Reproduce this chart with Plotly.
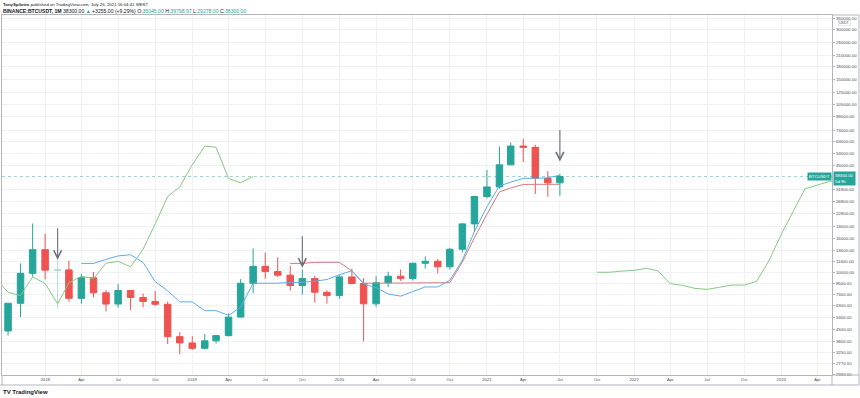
import math
import plotly.graph_objects as go
import pandas as pd

# ---------------- data ----------------
months = pd.date_range("2017-08-01", "2021-07-01", freq="MS")
opens = [4261.48, 4689.89, 4378.49, 6463.00, 9837.00, 13715.65, 10285.10, 10325.64, 6922.00, 9246.01,
         7485.01, 6391.08, 7735.67, 7011.21, 6626.57, 6369.52, 4041.27, 3701.23, 3434.10, 3814.26,
         4102.44, 5321.94, 8555.00, 10854.10, 10080.53, 9588.74, 8289.97, 9140.86, 7540.63, 7195.24,
         9351.71, 8523.61, 6412.14, 8620.00, 9448.27, 9138.08, 11335.46, 11649.51, 10776.59, 13791.00,
         19695.87, 28923.63, 33092.97, 45134.11, 58739.46, 57697.25, 37253.82, 35045.00]
highs = [4745.42, 4939.19, 6470.00, 11300.03, 19798.68, 17176.24, 11786.01, 11710.00, 9759.82, 10020.00,
         7786.69, 8491.77, 7750.00, 7410.00, 7680.00, 6615.15, 4312.99, 4069.80, 4198.00, 4140.00,
         5600.00, 9074.26, 13970.00, 13147.08, 12325.00, 10948.00, 10370.00, 9513.68, 7750.00, 9578.00,
         10500.00, 9188.00, 9460.00, 10067.00, 10380.00, 11444.00, 12468.00, 12050.85, 14100.00, 19863.16,
         29300.00, 41950.00, 58352.80, 61844.00, 64854.00, 59592.20, 41330.00, 39798.97]
lows = [3400.00, 2817.00, 4110.00, 5325.01, 9380.00, 9035.00, 6000.01, 6600.10, 6430.00, 7032.95,
        5750.00, 6070.00, 5880.00, 6111.00, 6205.00, 3652.66, 3156.26, 3349.92, 3373.10, 3670.69,
        4067.00, 5316.20, 7444.58, 9110.00, 9320.00, 7710.00, 7300.00, 6515.00, 6435.00, 6871.04,
        8445.00, 3782.13, 6150.11, 8117.00, 8833.00, 8893.03, 10518.50, 9825.00, 10376.00, 13195.05,
        17572.33, 28130.00, 32296.16, 44950.53, 47044.01, 30000.00, 28805.00, 29278.00]
closes = [4724.89, 4378.51, 6463.00, 9838.96, 13716.36, 10285.10, 10326.50, 6923.91, 9246.01, 7485.01,
          6391.08, 7730.93, 7011.21, 6626.57, 6371.93, 4041.32, 3702.90, 3434.10, 3813.69, 4103.95,
          5320.81, 8555.00, 10854.10, 10080.53, 9588.74, 8289.34, 9140.85, 7541.89, 7195.23, 9352.89,
          8523.61, 6410.44, 8620.00, 9448.27, 9138.55, 11335.46, 11649.51, 10776.59, 13791.00, 19695.87,
          28923.63, 33092.98, 45135.66, 58740.55, 57694.27, 37253.81, 35045.00, 38300.00]
highlight_month = "2018-02-01"

conv_dates = pd.date_range("2018-04-01", "2021-07-01", freq="MS")
conversion_line = [11307.8, 11307.8, 11954, 12562, 12774, 11463, 8768, 7681, 6588, 6588,
                   5824, 5824, 5453, 6115, 8563, 8563, 8563, 8660, 8672, 8820,
                   9019, 9643, 10203, 8465, 8054, 7365, 7141, 7613, 8125, 8125,
                   8941, 11823, 17725, 25034, 33593, 35369, 37340, 37340, 37615, 39025]
base_dates = pd.date_range("2019-09-01", "2021-07-01", freq="MS")
base_line = [11307.8, 11307.8, 11477.5, 11477.5, 11477.5, 10166, 8563, 8563, 8563, 8563,
             8563, 8563, 8563, 8628, 11509.7, 16228, 22553, 30851, 32608, 34262,
             34318, 34318, 34318]
lag_dates = pd.date_range("2017-08-01", "2019-06-01", freq="MS")
lagging_span = [8289, 9141, 7542, 7195, 9353, 8524, 6410, 8620, 9448, 9139,
                11335, 11650, 10777, 13791, 19696, 28924, 33093, 45136, 58741, 57694,
                37254, 35045, 38300]
lead_dates = pd.date_range("2021-10-01", "2023-08-01", freq="MS")
leading_span_a = [9984, 9989, 10149, 10248, 10560, 10184, 8514, 8309, 7964, 7852,
                  8088, 8344, 8344, 8785, 11666, 16977, 23793, 32222, 33989, 35801,
                  35829, 35966, 36672]

price_ticks = [2390, 2770, 3250, 3800, 4500, 5300, 6300, 7300, 8500, 10000, 11600, 13600, 16000,
               19000, 22800, 26800, 31800, 45000, 53000, 63000, 73000, 89000, 105000, 125000,
               150000, 180000, 210000, 250000, 300000, 350000]
time_ticks = pd.date_range("2018-01-01", "2023-04-01", freq="QS")
time_labels = ["2018", "Apr", "Jul", "Oct", "2019", "Apr", "Jul", "Oct", "2020", "Apr", "Jul", "Oct",
               "2021", "Apr", "Jul", "Oct", "2022", "Apr", "Jul", "Oct", "2023", "Apr"]
last_price = 38300.00
# arrows: (month, price just above the candle where the arrow head sits)
arrow_marks = [("2018-02-01", 11900), ("2019-10-01", 10650), ("2021-07-01", 47300)]

# ---------------- figure ----------------
UP, DOWN = "#26a69a", "#ef5350"
FADED = "#a8dcd6"
hl = months == pd.Timestamp(highlight_month)
norm = ~hl


def pick(vals, mask):
    return [v for v, k in zip(vals, mask) if k]


fig = go.Figure()
fig.add_trace(go.Candlestick(
    x=months[norm], open=pick(opens, norm), high=pick(highs, norm),
    low=pick(lows, norm), close=pick(closes, norm),
    increasing=dict(line=dict(color=UP, width=1), fillcolor=UP),
    decreasing=dict(line=dict(color=DOWN, width=1), fillcolor=DOWN),
    showlegend=False, hoverinfo="skip"))
fig.add_trace(go.Candlestick(
    x=months[hl], open=pick(opens, hl), high=pick(highs, hl),
    low=pick(lows, hl), close=pick(closes, hl),
    increasing=dict(line=dict(color=FADED, width=1), fillcolor=FADED),
    decreasing=dict(line=dict(color=FADED, width=1), fillcolor=FADED),
    showlegend=False, hoverinfo="skip"))

fig.add_trace(go.Scatter(x=lag_dates, y=lagging_span, mode="lines",
                         line=dict(color="#86c97f", width=1), showlegend=False, hoverinfo="skip"))
fig.add_trace(go.Scatter(x=lead_dates, y=leading_span_a, mode="lines",
                         line=dict(color="#86c97f", width=1), showlegend=False, hoverinfo="skip"))
fig.add_trace(go.Scatter(x=base_dates, y=base_line, mode="lines",
                         line=dict(color="#d57a7c", width=1), showlegend=False, hoverinfo="skip"))
fig.add_trace(go.Scatter(x=conv_dates, y=conversion_line, mode="lines",
                         line=dict(color="#5eaaf0", width=1), showlegend=False, hoverinfo="skip"))

GRID = "#eef1f6"
AX = "#b2b5be"
TXT = "#4a4d57"
FONT = "Liberation Sans"

fig.update_layout(
    width=860, height=398,
    margin=dict(l=2, r=28, t=15, b=23),
    paper_bgcolor="white", plot_bgcolor="white",
    boxgap=0.18,
    font=dict(family=FONT, size=5, color=TXT),
    xaxis=dict(
        type="date", range=["2017-09-16", "2023-05-07"],
        tickvals=time_ticks, ticktext=time_labels,
        showgrid=True, gridcolor=GRID, gridwidth=1,
        showline=True, linecolor=AX, linewidth=1, mirror=True,
        ticks="", tickfont=dict(size=4.2, color=TXT, family=FONT),
        rangeslider=dict(visible=False), zeroline=False, fixedrange=True),
    yaxis=dict(
        type="log", side="right", range=[3.373, 5.568],
        tickvals=price_ticks, ticktext=[f"{v:.2f}" for v in price_ticks],
        showgrid=True, gridcolor=GRID, gridwidth=1,
        showline=True, linecolor=AX, linewidth=1, mirror=True,
        ticks="outside", ticklen=2, tickcolor=AX,
        tickfont=dict(size=4.4, color=TXT, family=FONT), zeroline=False, fixedrange=True),
)

# last price line
fig.add_shape(type="line", xref="paper", x0=0, x1=1, yref="y", y0=last_price, y1=last_price,
              line=dict(color="rgba(38,166,154,0.45)", width=1, dash="dot"))


def px_x(px):
    return (px - 2) / 830.0


def px_y(py):
    return (375 - py) / 360.0


# outer frame (time-axis pane and price-axis pane)
frame = [
    (px_x(0), px_x(859), px_y(385), px_y(385)),
    (px_x(859), px_x(859), px_y(385), px_y(15)),
    (1, 1, px_y(375), px_y(385)),
    (0, 0, px_y(375), px_y(385)),
    (1, px_x(859), 1, 1),
    (1, px_x(859), 0, 0),
]
for x0, x1, y0, y1 in frame:
    fig.add_shape(type="line", xref="paper", yref="paper", x0=x0, x1=x1, y0=y0, y1=y1,
                  line=dict(color=AX, width=1))

# arrows (annotation positions on a log axis are given in log10 units)
for xd, yv in arrow_marks:
    fig.add_annotation(x=xd, y=math.log10(yv), xref="x", yref="y", text="", showarrow=True,
                       ax=0, ay=-33, axref="pixel", ayref="pixel",
                       arrowhead=5, arrowsize=1.4, arrowwidth=1.1, arrowcolor="#6a6d78")

# header
green = UP
fig.add_annotation(xref="paper", yref="paper", x=0, y=px_y(4), xanchor="left", yanchor="middle",
                   showarrow=False, align="left", borderpad=0,
                   text="<b>TonySpilotro</b> published on TradingView.com, July 26, 2021 16:04:41 WEST",
                   font=dict(size=4.3, color="#131722", family=FONT))
fig.add_annotation(xref="paper", yref="paper", x=0, y=px_y(11), xanchor="left", yanchor="middle",
                   showarrow=False, align="left", borderpad=0,
                   text=(f"<b>BINANCE:BTCUSDT, 1M</b> 38300.00 <span style='color:{green}'>▲</span> "
                         f"+3255.00 (+9.29%) O:<span style='color:{green}'>35045.00</span> "
                         f"H:<span style='color:{green}'>39798.97</span> "
                         f"L:<span style='color:{green}'>29278.00</span> "
                         f"C:<span style='color:{green}'>38300.00</span>"),
                   font=dict(size=5.1, color="#131722", family=FONT))

# price labels on the right
ylast = math.log10(last_price)
fig.add_annotation(xref="paper", yref="y", x=1, y=ylast, xanchor="right", yanchor="middle",
                   showarrow=False, text="BTCUSDT", bgcolor=UP, borderpad=1,
                   font=dict(size=4.3, color="white", family=FONT))
fig.add_annotation(xref="paper", yref="y", x=1.0015, y=ylast, xanchor="left", yanchor="middle",
                   yshift=-2, showarrow=False, text="38300.00<br>5d 9h", bgcolor=UP, borderpad=1,
                   align="left", font=dict(size=4.3, color="white", family=FONT))
fig.add_annotation(xref="paper", yref="paper", x=px_x(845), y=px_y(22.5), xanchor="center", yanchor="middle",
                   showarrow=False, text="USDT", bordercolor="#d1d4dc", borderwidth=0.5, borderpad=0.5,
                   bgcolor="white", font=dict(size=3.6, color=TXT, family=FONT))

# TradingView footer
fig.add_annotation(xref="paper", yref="paper", x=0, y=px_y(392), xanchor="left", yanchor="middle",
                   showarrow=False, text="<b>TV</b> <b>TradingView</b>", borderpad=0,
                   font=dict(size=6, color="#131722", family=FONT))

fig.write_html("out.html", config={"displayModeBar": False, "staticPlot": True},
               post_script="document.body.style.margin='0px';document.body.style.overflow='hidden';")
